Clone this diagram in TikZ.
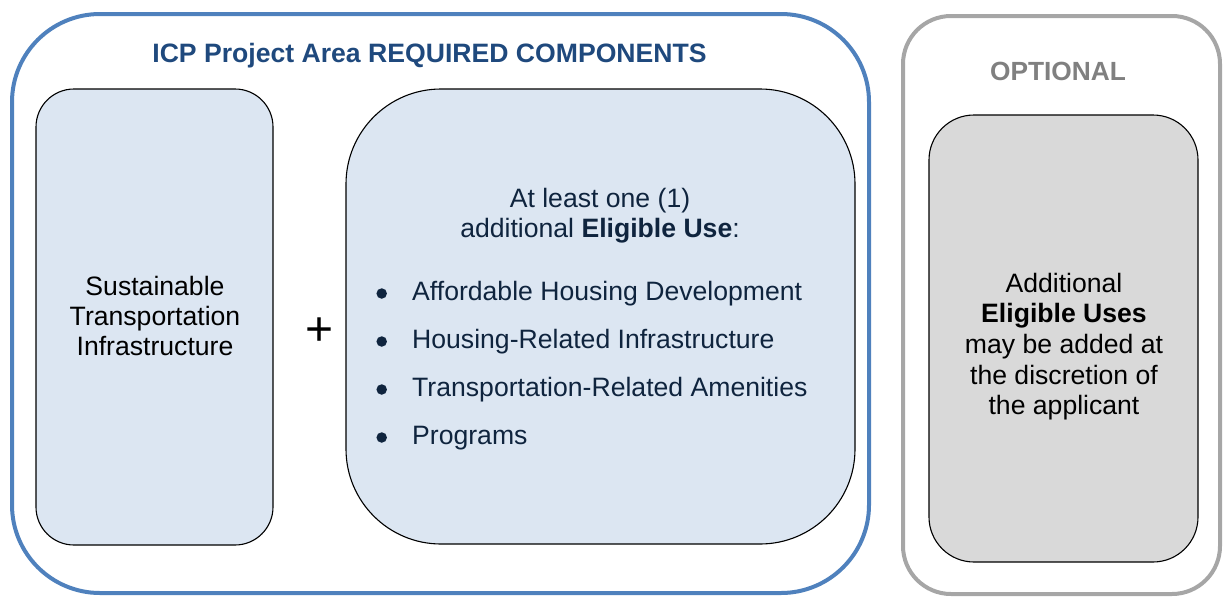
\documentclass[tikz,border=0pt]{standalone}
\usepackage{fontspec}
\setmainfont{Liberation Sans}
\definecolor{outerblue}{HTML}{4F81BD}
\definecolor{lightfill}{HTML}{DCE6F2}
\definecolor{outergray}{HTML}{A6A6A6}
\definecolor{grayfill}{HTML}{D9D9D9}
\definecolor{titleblue}{HTML}{1F497D}
\definecolor{navytext}{HTML}{0F243E}
\definecolor{optgray}{HTML}{808080}
\tikzset{
  frame/.style={draw, rectangle, line width=4pt, inner sep=0pt},
  card/.style={draw=black, rectangle, line width=1.1pt, inner sep=0pt},
  txt/.style={inner sep=0pt, anchor=base, font=\fontsize{26.6}{30}\selectfont},
  listtxt/.style={inner sep=0pt, anchor=base west, font=\fontsize{26.6}{30}\selectfont, text=navytext},
  dotmark/.style={circle, fill=navytext, inner sep=0pt, minimum size=10.5pt},
}
\begin{document}
\begin{tikzpicture}[x=1pt,y=-1pt]
\useasboundingbox (0,0) rectangle (1223,597);
% outer frames
\node[frame, draw=outerblue, rounded corners=88pt, minimum width=857pt, minimum height=579pt] (req) at (440.5,303.5) {};
\node[frame, draw=outergray, rounded corners=48pt, minimum width=317pt, minimum height=578pt] (opt) at (1061.5,305) {};
% inner cards
\node[card, fill=lightfill, rounded corners=38pt, minimum width=237pt, minimum height=456pt] (sti) at (154.5,317) {};
\node[card, fill=lightfill, rounded corners=95pt, minimum width=509pt, minimum height=455pt] (elig) at (600.5,316.5) {};
\node[card, fill=grayfill, rounded corners=45pt, minimum width=269pt, minimum height=447pt] (add) at (1063.5,338.5) {};
% titles
\node[txt, font=\fontsize{26.6}{30}\selectfont\bfseries, text=titleblue] (title) at (429.5,62) {ICP Project Area REQUIRED COMPONENTS};
\node[txt, font=\fontsize{26.3}{30}\selectfont\bfseries, text=optgray] (optt) at (1058,80) {OPTIONAL};
% left card text
\node[txt] (l1) at (155,295) {Sustainable};
\node[txt] (l2) at (155,325) {Transportation};
\node[txt] (l3) at (155,355) {Infrastructure};
% plus
\node[inner sep=0pt, font=\fontsize{48}{50}\selectfont] (plus) at (319.5,332) {+};
% middle card text
\node[txt, text=navytext] (m1) at (600,207) {At least one (1)};
\node[txt, text=navytext] (m2) at (600,237) {additional \textbf{Eligible Use}:};
\node[listtxt] (b1) at (412,300) {Affordable Housing Development};
\node[listtxt] (b2) at (412,348) {Housing-Related Infrastructure};
\node[listtxt] (b3) at (412,396) {Transportation-Related Amenities};
\node[listtxt] (b4) at (412,444) {Programs};
\node[dotmark] (dot1) at (381.7,293.5) {};
\node[dotmark] (dot2) at (381.7,341.5) {};
\node[dotmark] (dot3) at (381.7,389.5) {};
\node[dotmark] (dot4) at (381.7,437.5) {};
% right card text
\node[txt] (r1) at (1064,292) {Additional};
\node[txt] (r2) at (1064,322) {\textbf{Eligible Uses}};
\node[txt] (r3) at (1064,353) {may be added at};
\node[txt] (r4) at (1064,384) {the discretion of};
\node[txt] (r5) at (1064,414) {the applicant};
\end{tikzpicture}
\end{document}
